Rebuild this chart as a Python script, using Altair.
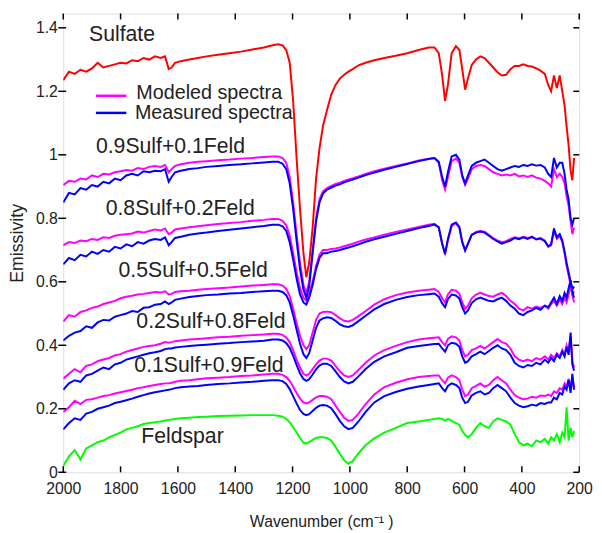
import altair as alt
import pandas as pd

# Wavenumber grid (cm-1), shared by all spectra
WN = [2000, 1980, 1960, 1940, 1920, 1900, 1880, 1860, 1840, 1820, 1800, 1780, 1760, 1740, 1720, 1700,
      1680, 1660, 1645, 1632, 1622, 1610, 1590, 1560, 1530, 1500, 1460, 1420, 1380, 1340, 1300,
      1270, 1250, 1235, 1222, 1210, 1198, 1186, 1174, 1162, 1152, 1142, 1130, 1118, 1106, 1094,
      1080, 1065, 1050, 1035, 1020, 1005, 990, 970, 945, 915, 880, 840, 800, 760, 725, 705,
      690, 678, 668, 658, 645, 630, 618, 608, 598, 588, 575, 560,
      545, 530, 515, 500, 485, 470, 455, 440, 425, 410, 395, 380, 365, 350, 335, 320,
      308, 298, 288, 278, 268, 259, 251, 244, 237, 230, 224, 218]

SULFATE = [1.235, 1.262, 1.255, 1.268, 1.262, 1.272, 1.29, 1.275, 1.28, 1.285, 1.29, 1.288, 1.298, 1.295, 1.305, 1.30,
           1.31, 1.305, 1.31, 1.27, 1.275, 1.29, 1.295, 1.30, 1.305, 1.31, 1.315, 1.32, 1.325, 1.332, 1.338,
           1.345, 1.348, 1.345, 1.33, 1.29, 1.17, 0.99, 0.83, 0.69, 0.615, 0.66, 0.77, 0.925, 1.02, 1.09,
           1.14, 1.19, 1.22, 1.24, 1.252, 1.262, 1.27, 1.282, 1.29, 1.298, 1.305, 1.312, 1.32, 1.33, 1.338, 1.338,
           1.32, 1.25, 1.17, 1.22, 1.32, 1.342, 1.33, 1.27, 1.205, 1.24, 1.283, 1.30,
           1.31, 1.305, 1.29, 1.275, 1.26, 1.25, 1.252, 1.27, 1.28, 1.28, 1.285, 1.28, 1.278, 1.272, 1.265, 1.255,
           1.22, 1.2, 1.25, 1.21, 1.25, 1.20, 1.155, 1.09, 1.03, 0.95, 0.92, 0.99]

MOD_09 = [0.905, 0.918, 0.915, 0.925, 0.922, 0.935, 0.93, 0.94, 0.938, 0.945, 0.948, 0.952, 0.95, 0.958, 0.955, 0.962,
          0.965, 0.962, 0.968, 0.945, 0.955, 0.965, 0.97, 0.975, 0.978, 0.98, 0.983, 0.985, 0.988, 0.99, 0.993,
          0.995, 0.995, 0.99, 0.975, 0.93, 0.85, 0.75, 0.66, 0.59, 0.565, 0.60, 0.70, 0.80, 0.86, 0.885,
          0.895, 0.902, 0.908, 0.912, 0.918, 0.922, 0.926, 0.932, 0.94, 0.948, 0.956, 0.965, 0.973, 0.982, 0.988, 0.99,
          0.975, 0.92, 0.89, 0.93, 0.98, 0.988, 0.975, 0.93, 0.905, 0.925, 0.955, 0.965,
          0.968, 0.965, 0.955, 0.945, 0.94, 0.935, 0.938, 0.935, 0.94, 0.932, 0.935, 0.93, 0.935, 0.928, 0.925, 0.918,
          0.91, 0.90, 0.955, 0.93, 0.94, 0.93, 0.91, 0.87, 0.84, 0.79, 0.75, 0.77]
MEAS_09 = [0.85, 0.88, 0.875, 0.895, 0.89, 0.905, 0.90, 0.915, 0.91, 0.925, 0.92, 0.935, 0.94, 0.935, 0.948, 0.945,
           0.95, 0.948, 0.955, 0.915, 0.93, 0.945, 0.95, 0.955, 0.958, 0.962, 0.965, 0.968, 0.97, 0.973, 0.976,
           0.978, 0.978, 0.972, 0.955, 0.91, 0.83, 0.73, 0.64, 0.575, 0.55, 0.585, 0.69, 0.79, 0.85, 0.878,
           0.89, 0.897, 0.903, 0.907, 0.913, 0.918, 0.922, 0.928, 0.936, 0.944, 0.953, 0.962, 0.971, 0.98, 0.987, 0.99,
           0.978, 0.93, 0.90, 0.945, 0.995, 1.0, 0.985, 0.935, 0.91, 0.935, 0.965, 0.975,
           0.98, 0.985, 0.975, 0.965, 0.955, 0.95, 0.955, 0.96, 0.965, 0.962, 0.968, 0.965, 0.97, 0.966, 0.968, 0.96,
           0.94, 0.93, 0.99, 0.96, 0.975, 0.975, 0.94, 0.89, 0.86, 0.80, 0.78, 0.80]

MOD_08 = [0.715, 0.725, 0.722, 0.73, 0.728, 0.735, 0.732, 0.74, 0.738, 0.745, 0.748, 0.75, 0.752, 0.758, 0.755, 0.76,
          0.765, 0.762, 0.768, 0.75, 0.755, 0.765, 0.768, 0.772, 0.775, 0.778, 0.782, 0.785, 0.788, 0.792, 0.795,
          0.798, 0.798, 0.792, 0.778, 0.745, 0.69, 0.63, 0.58, 0.55, 0.54, 0.56, 0.60, 0.65, 0.685, 0.70,
          0.70, 0.703, 0.705, 0.708, 0.712, 0.716, 0.72, 0.726, 0.733, 0.74, 0.748, 0.757, 0.765, 0.773, 0.78, 0.783,
          0.77, 0.72, 0.69, 0.73, 0.775, 0.785, 0.77, 0.725, 0.70, 0.72, 0.748, 0.757,
          0.76, 0.758, 0.748, 0.738, 0.73, 0.725, 0.728, 0.735, 0.74, 0.737, 0.742, 0.738, 0.74, 0.735, 0.738, 0.73,
          0.71, 0.715, 0.76, 0.735, 0.745, 0.725, 0.69, 0.65, 0.62, 0.59, 0.56, 0.535]
MEAS_08 = [0.655, 0.675, 0.668, 0.685, 0.68, 0.695, 0.688, 0.70, 0.695, 0.71, 0.705, 0.718, 0.712, 0.725, 0.72, 0.73,
           0.735, 0.732, 0.74, 0.715, 0.725, 0.738, 0.742, 0.748, 0.752, 0.755, 0.76, 0.764, 0.768, 0.772, 0.776,
           0.78, 0.78, 0.775, 0.76, 0.725, 0.67, 0.61, 0.56, 0.535, 0.528, 0.55, 0.59, 0.64, 0.675, 0.69,
           0.69, 0.695, 0.697, 0.70, 0.704, 0.708, 0.712, 0.718, 0.726, 0.734, 0.742, 0.751, 0.76, 0.769, 0.776, 0.78,
           0.772, 0.72, 0.687, 0.735, 0.78, 0.787, 0.772, 0.725, 0.698, 0.72, 0.748, 0.755,
           0.758, 0.755, 0.745, 0.735, 0.727, 0.72, 0.725, 0.73, 0.738, 0.734, 0.74, 0.735, 0.742, 0.733, 0.736, 0.728,
           0.712, 0.718, 0.768, 0.74, 0.75, 0.73, 0.695, 0.66, 0.63, 0.60, 0.57, 0.55]

MOD_05 = [0.475, 0.495, 0.49, 0.505, 0.51, 0.518, 0.522, 0.53, 0.535, 0.54, 0.548, 0.553, 0.556, 0.56, 0.562, 0.565,
          0.568, 0.566, 0.57, 0.56, 0.562, 0.568, 0.57, 0.572, 0.575, 0.577, 0.58, 0.582, 0.585, 0.588, 0.59,
          0.592, 0.592, 0.588, 0.578, 0.555, 0.515, 0.47, 0.43, 0.40, 0.388, 0.40, 0.44, 0.48, 0.50, 0.505,
          0.506, 0.504, 0.495, 0.485, 0.477, 0.475, 0.48, 0.492, 0.508, 0.528, 0.545, 0.558, 0.566, 0.572, 0.575, 0.577,
          0.568, 0.548, 0.535, 0.56, 0.575, 0.572, 0.562, 0.535, 0.515, 0.525, 0.548, 0.56,
          0.565, 0.56, 0.555, 0.553, 0.56, 0.565, 0.555, 0.54, 0.53, 0.515, 0.51, 0.52, 0.515, 0.522, 0.518, 0.525,
          0.515, 0.53, 0.54, 0.525, 0.545, 0.53, 0.55, 0.535, 0.56, 0.59, 0.56, 0.57]
MEAS_05 = [0.415, 0.43, 0.44, 0.445, 0.46, 0.455, 0.472, 0.48, 0.478, 0.49, 0.495, 0.50, 0.508, 0.505, 0.518, 0.52,
           0.528, 0.53, 0.538, 0.53, 0.535, 0.543, 0.547, 0.552, 0.555, 0.558, 0.56, 0.563, 0.565, 0.568, 0.57,
           0.572, 0.572, 0.568, 0.558, 0.535, 0.495, 0.45, 0.405, 0.372, 0.36, 0.375, 0.415, 0.455, 0.478, 0.485,
           0.488, 0.486, 0.477, 0.466, 0.46, 0.458, 0.463, 0.476, 0.493, 0.513, 0.53, 0.543, 0.552, 0.558, 0.561, 0.563,
           0.553, 0.532, 0.52, 0.545, 0.56, 0.557, 0.547, 0.52, 0.50, 0.51, 0.533, 0.545,
           0.55, 0.545, 0.54, 0.538, 0.545, 0.55, 0.54, 0.525, 0.515, 0.50, 0.495, 0.505, 0.51, 0.518, 0.512, 0.525,
           0.52, 0.535, 0.55, 0.53, 0.555, 0.54, 0.565, 0.55, 0.58, 0.605, 0.575, 0.585]

MOD_02 = [0.295, 0.31, 0.325, 0.315, 0.335, 0.34, 0.35, 0.355, 0.36, 0.368, 0.372, 0.38, 0.385, 0.39, 0.395, 0.398,
          0.40, 0.405, 0.41, 0.408, 0.41, 0.413, 0.415, 0.418, 0.42, 0.422, 0.425, 0.427, 0.43, 0.432, 0.434,
          0.436, 0.436, 0.433, 0.425, 0.41, 0.385, 0.355, 0.33, 0.31, 0.305, 0.31, 0.325, 0.34, 0.352, 0.358,
          0.358, 0.352, 0.335, 0.318, 0.305, 0.30, 0.305, 0.322, 0.345, 0.368, 0.385, 0.398, 0.41, 0.418, 0.422, 0.424,
          0.425, 0.41, 0.40, 0.42, 0.428, 0.425, 0.415, 0.385, 0.365, 0.37, 0.385, 0.39,
          0.398, 0.39, 0.40, 0.41, 0.42, 0.41, 0.405, 0.39, 0.365, 0.355, 0.35, 0.355, 0.35, 0.36, 0.355, 0.365,
          0.355, 0.37, 0.36, 0.375, 0.365, 0.385, 0.37, 0.40, 0.38, 0.43, 0.35, 0.33]
MEAS_02 = [0.26, 0.28, 0.29, 0.285, 0.305, 0.31, 0.32, 0.33, 0.325, 0.34, 0.345, 0.355, 0.36, 0.365, 0.37, 0.375,
           0.378, 0.382, 0.388, 0.39, 0.39, 0.393, 0.395, 0.398, 0.40, 0.402, 0.405, 0.407, 0.41, 0.412, 0.414,
           0.418, 0.418, 0.415, 0.407, 0.392, 0.367, 0.338, 0.312, 0.294, 0.288, 0.293, 0.308, 0.324, 0.336, 0.342,
           0.342, 0.335, 0.318, 0.30, 0.286, 0.28, 0.285, 0.302, 0.325, 0.348, 0.365, 0.378, 0.392, 0.398, 0.402, 0.404,
           0.405, 0.39, 0.38, 0.40, 0.408, 0.405, 0.395, 0.365, 0.345, 0.35, 0.365, 0.372,
           0.38, 0.372, 0.382, 0.392, 0.40, 0.39, 0.385, 0.37, 0.345, 0.335, 0.33, 0.338, 0.335, 0.345, 0.34, 0.355,
           0.345, 0.36, 0.35, 0.37, 0.36, 0.38, 0.365, 0.395, 0.37, 0.44, 0.34, 0.32]

MOD_01 = [0.19, 0.205, 0.225, 0.215, 0.228, 0.23, 0.235, 0.24, 0.243, 0.248, 0.252, 0.256, 0.26, 0.265, 0.268, 0.272,
          0.275, 0.278, 0.28, 0.28, 0.282, 0.285, 0.288, 0.29, 0.293, 0.296, 0.298, 0.30, 0.303, 0.305, 0.308,
          0.31, 0.31, 0.307, 0.30, 0.288, 0.27, 0.25, 0.232, 0.22, 0.217, 0.22, 0.228, 0.236, 0.24, 0.24,
          0.238, 0.23, 0.21, 0.19, 0.172, 0.162, 0.165, 0.185, 0.215, 0.245, 0.268, 0.282, 0.293, 0.30, 0.303, 0.305,
          0.305, 0.29, 0.28, 0.298, 0.305, 0.30, 0.29, 0.26, 0.24, 0.245, 0.265, 0.272,
          0.28, 0.27, 0.275, 0.29, 0.30, 0.29, 0.28, 0.26, 0.243, 0.235, 0.23, 0.232, 0.238, 0.235, 0.242, 0.24,
          0.245, 0.24, 0.255, 0.25, 0.265, 0.26, 0.28, 0.27, 0.295, 0.265, 0.30, 0.265]
MEAS_01 = [0.135, 0.155, 0.17, 0.165, 0.185, 0.19, 0.20, 0.205, 0.21, 0.218, 0.222, 0.227, 0.232, 0.238, 0.243, 0.248,
           0.252, 0.255, 0.258, 0.26, 0.262, 0.265, 0.268, 0.27, 0.272, 0.275, 0.278, 0.28, 0.283, 0.285, 0.288,
           0.29, 0.29, 0.287, 0.278, 0.262, 0.24, 0.217, 0.196, 0.184, 0.18, 0.183, 0.193, 0.203, 0.21, 0.212,
           0.21, 0.202, 0.183, 0.162, 0.145, 0.136, 0.14, 0.16, 0.19, 0.22, 0.24, 0.253, 0.263, 0.27, 0.275, 0.278,
           0.28, 0.265, 0.255, 0.272, 0.28, 0.275, 0.265, 0.235, 0.218, 0.222, 0.242, 0.25,
           0.255, 0.245, 0.25, 0.265, 0.275, 0.265, 0.255, 0.235, 0.218, 0.21, 0.205, 0.208, 0.213, 0.21, 0.218, 0.215,
           0.22, 0.22, 0.235, 0.23, 0.25, 0.245, 0.27, 0.26, 0.29, 0.25, 0.31, 0.26]

FELDSPAR = [0.02, 0.05, 0.07, 0.04, 0.075, 0.085, 0.095, 0.10, 0.11, 0.118, 0.125, 0.135, 0.14, 0.145, 0.152, 0.155,
            0.158, 0.16, 0.163, 0.165, 0.166, 0.168, 0.17, 0.172, 0.174, 0.175, 0.177, 0.178, 0.179, 0.18, 0.18,
            0.18, 0.178, 0.175, 0.168, 0.158, 0.142, 0.125, 0.108, 0.093, 0.09, 0.095, 0.102, 0.108, 0.11, 0.11,
            0.108, 0.10, 0.08, 0.058, 0.038, 0.027, 0.035, 0.06, 0.085, 0.107, 0.125, 0.14, 0.155, 0.16, 0.165, 0.168,
            0.17, 0.168, 0.163, 0.168, 0.162, 0.155, 0.15, 0.13, 0.118, 0.11, 0.12, 0.14,
            0.155, 0.145, 0.14, 0.16, 0.17, 0.165, 0.16, 0.15, 0.12, 0.095, 0.085, 0.09, 0.082, 0.10, 0.095, 0.105,
            0.09, 0.11, 0.10, 0.12, 0.095, 0.125, 0.11, 0.205, 0.10, 0.14, 0.11, 0.13]

X_TICKS = [2000, 1800, 1600, 1400, 1200, 1000, 800, 600, 400, 200]
Y_TICKS = [0, 0.2, 0.4, 0.6, 0.8, 1, 1.2, 1.4]

CURVE_LABELS = ["Sulfate", "0.9Sulf+0.1Feld", "0.8Sulf+0.2Feld", "0.5Sulf+0.5Feld",
                "0.2Sulf+0.8Feld", "0.1Sulf+0.9Feld", "Feldspar"]
LABEL_WN = [1910, 1886, 1852, 1807, 1745, 1752, 1728]
LABEL_EM = [1.376, 1.025, 0.829, 0.634, 0.472, 0.335, 0.112]

LEGEND_NAMES = ["Modeled spectra", "Measured spectra"]
LEGEND_COLORS = ["#FF00FF", "#0000FF"]
LEGEND_LINE_EM = [1.186, 1.132]
LEGEND_TEXT_EM = [1.195, 1.132]
LEGEND_X = [1886, 1780]
LEGEND_TEXT_WN = [1745, 1750]

W, H = 523, 465
X_DOMAIN = [2000, 200]
Y_DOMAIN = [0, 1.445]
FONT = "Liberation Sans"

series = [
    ("mod09", "Modeled", MOD_09), ("mod08", "Modeled", MOD_08), ("mod05", "Modeled", MOD_05),
    ("mod02", "Modeled", MOD_02), ("mod01", "Modeled", MOD_01),
    ("meas09", "Measured", MEAS_09), ("meas08", "Measured", MEAS_08), ("meas05", "Measured", MEAS_05),
    ("meas02", "Measured", MEAS_02), ("meas01", "Measured", MEAS_01),
    ("sulf", "Sulfate", SULFATE), ("feld", "Feldspar", FELDSPAR),
]
rows = []
for sid, kind, vals in series:
    assert len(vals) == len(WN), (sid, len(vals), len(WN))
    for w, v in zip(WN, vals):
        rows.append({"sid": sid, "kind": kind, "wn": w, "em": v})
df = pd.DataFrame(rows)

xs = alt.Scale(domain=X_DOMAIN, nice=False, zero=False)
ys = alt.Scale(domain=Y_DOMAIN, nice=False, zero=False)

KIND_COLORS = {"Modeled": "#FF00FF", "Measured": "#0000FF", "Sulfate": "#FF0000", "Feldspar": "#00FF00"}

base_x = alt.X("wn:Q", scale=xs,
               axis=alt.Axis(values=X_TICKS, format="d", ticks=False, domain=False, grid=False,
                             labelFontSize=16, labelFont=FONT, labelColor="#222",
                             labelPadding=9, title="Wavenumber (cm⁻¹ )", titleFont=FONT,
                             titleFontSize=16, titleFontWeight="normal", titleColor="#222",
                             titlePadding=17, labelFlush=False))
base_y = alt.Y("em:Q", scale=ys,
               axis=alt.Axis(values=Y_TICKS, format="~g", ticks=False, domain=False, grid=False,
                             labelFontSize=16, labelFont=FONT, labelColor="#222",
                             labelPadding=6, title="Emissivity", titleFont=FONT,
                             titleFontSize=18, titleFontWeight="normal", titleColor="#222",
                             titlePadding=9, labelFlush=False))

layers = []
for kind in ["Modeled", "Measured", "Sulfate", "Feldspar"]:
    layers.append(
        alt.Chart(df[df.kind == kind]).mark_line(strokeWidth=2, color=KIND_COLORS[kind], clip=True)
        .encode(x=base_x, y=base_y, detail="sid:N", order="idx:Q")
        .transform_calculate(idx="-datum.wn")
    )

lab_df = pd.DataFrame({"label": CURVE_LABELS, "wn": LABEL_WN, "em": LABEL_EM})
labels = alt.Chart(lab_df).mark_text(align="left", baseline="middle", font=FONT,
                                     fontSize=21.5, color="#222").encode(
    x=alt.X("wn:Q", scale=xs), y=alt.Y("em:Q", scale=ys), text="label:N")

leg_line_df = pd.DataFrame({"name": LEGEND_NAMES, "x1": [LEGEND_X[0]] * 2, "x2": [LEGEND_X[1]] * 2,
                            "em": LEGEND_LINE_EM, "c": LEGEND_COLORS})
leg_lines = alt.Chart(leg_line_df).mark_rule(strokeWidth=2.5).encode(
    x=alt.X("x1:Q", scale=xs), x2="x2:Q", y=alt.Y("em:Q", scale=ys),
    color=alt.Color("c:N", scale=None))
leg_text_df = pd.DataFrame({"name": LEGEND_NAMES, "wn": LEGEND_TEXT_WN, "em": LEGEND_TEXT_EM})
leg_text = alt.Chart(leg_text_df).mark_text(align="left", baseline="middle", font=FONT,
                                            fontSize=20, color="#222").encode(
    x=alt.X("wn:Q", scale=xs), y=alt.Y("em:Q", scale=ys), text="name:N")

xt = pd.DataFrame({"v": X_TICKS})
yt = pd.DataFrame({"v": Y_TICKS})
tick_b = alt.Chart(xt).mark_rule(color="black", strokeWidth=1.5).encode(
    x=alt.X("v:Q", scale=xs), y=alt.value(H), y2=alt.value(H - 6))
tick_t = alt.Chart(xt).mark_rule(color="black", strokeWidth=1.5).encode(
    x=alt.X("v:Q", scale=xs), y=alt.value(0), y2=alt.value(6))
tick_l = alt.Chart(yt).mark_rule(color="black", strokeWidth=1.5).encode(
    y=alt.Y("v:Q", scale=ys), x=alt.value(-5), x2=alt.value(3))
tick_r = alt.Chart(yt).mark_rule(color="black", strokeWidth=1.5).encode(
    y=alt.Y("v:Q", scale=ys), x=alt.value(W - 6), x2=alt.value(W))

chart = alt.layer(*layers, labels, leg_lines, leg_text, tick_b, tick_t, tick_l, tick_r).properties(
    width=W, height=H,
    autosize=alt.AutoSizeParams(type="none"),
    padding={"left": 56, "top": 2, "right": 15, "bottom": 62},
).configure_view(stroke="black", strokeWidth=2).configure(background="white")

chart.save("out.html", embed_options={"renderer": "svg", "actions": False})
